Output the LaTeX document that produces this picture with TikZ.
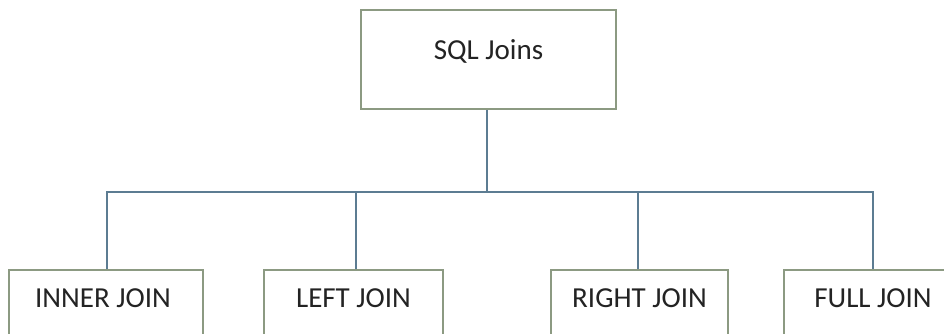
\documentclass[tikz,border=0pt]{standalone}
\usepackage{fontspec}
\setmainfont{Carlito}
\usetikzlibrary{positioning}
\definecolor{boxline}{RGB}{140,154,130}
\definecolor{wireline}{RGB}{92,124,146}
\definecolor{ink}{RGB}{35,35,35}
\tikzset{
  box/.style      = { rectangle, draw=boxline, line width=1.6pt, fill=white },
  topbox/.style   = { box, minimum width=255pt, minimum height=99pt },
  joinbox/.style  = { box, minimum height=90pt },
  caption/.style  = { text=ink, inner sep=0pt, font=\fontsize{29}{35}\selectfont },
  wire/.style     = { draw=wireline, line width=1.3pt },
}

\begin{document}
\begin{tikzpicture}[x=1pt,y=1pt]
  \clip (0,0) rectangle (944,334);
  \fill[white] (0,0) rectangle (944,334);

  \node (root)  [topbox]                  at (488.5,274.5) {};
  \node (title) [caption]                 at ([yshift=8pt]root.center) {SQL Joins};

  \node (inner) [joinbox,minimum width=194pt] at (106,19) {};
  \node (left)  [joinbox,minimum width=179pt] at (353.5,19) {};
  \node (right) [joinbox,minimum width=177pt] at (639.5,19) {};
  \node (full)  [joinbox,minimum width=178pt] at (873,19) {};

  \node (innertext) [caption] at ([xshift=-3pt,yshift=17pt]inner.center) {INNER JOIN};
  \node (lefttext)  [caption] at ([yshift=17pt]left.center)  {LEFT JOIN};
  \node (righttext) [caption] at ([yshift=17pt]right.center) {RIGHT JOIN};
  \node (fulltext)  [caption] at ([yshift=17pt]full.center)  {FULL JOIN};

  \coordinate (bus) at ([xshift=-1.5pt]root.south |- 0,142);

  \draw [wire] ([xshift=-1.5pt]root.south) -- (bus);
  \draw [wire] ([xshift=1pt]inner.north) -- ([xshift=1pt]inner.north |- bus)
               -- (full.north |- bus) -- (full.north);
  \draw [wire] ([xshift=2.5pt]left.north) -- ([xshift=2.5pt]left.north |- bus);
  \draw [wire] ([xshift=-1.5pt]right.north) -- ([xshift=-1.5pt]right.north |- bus);
\end{tikzpicture}
\end{document}
